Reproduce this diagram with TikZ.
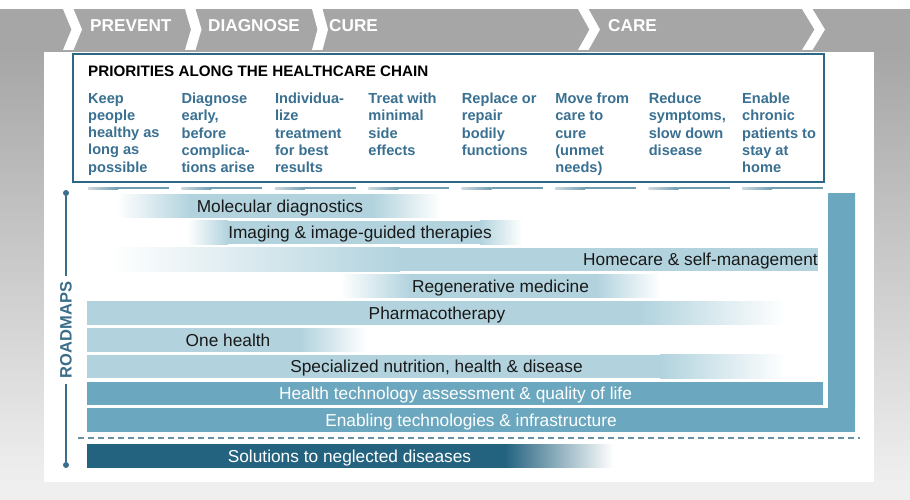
\documentclass[tikz,border=0pt]{standalone}
\usepackage{fontspec}
\setmainfont{Liberation Sans}
\usepackage{xcolor}
\usepackage{tikz}

\definecolor{bandgray}{RGB}{166,166,166}
\definecolor{bggray}{RGB}{239,239,239}
\definecolor{boxblue}{RGB}{44,104,133}
\definecolor{colblue}{RGB}{58,112,145}
\definecolor{axisblue}{RGB}{58,110,138}
\definecolor{barlight}{RGB}{178,211,222}
\definecolor{barmid}{RGB}{107,168,191}
\definecolor{bardark}{RGB}{36,99,127}
\definecolor{dashgray}{RGB}{106,145,163}
\definecolor{seglight}{RGB}{205,216,222}
\definecolor{segdark}{RGB}{112,156,178}

\begin{document}
\begin{tikzpicture}[x=1pt, y=-1pt,
    chevlabel/.style={font=\fontsize{17.2}{20}\selectfont\bfseries, text=white, inner sep=0pt, anchor=base west},
    coltext/.style={font=\fontsize{14.6}{17.2}\selectfont\bfseries, text=colblue, align=left, inner sep=0pt, anchor=north west},
    bartext/.style={font=\fontsize{17.3}{20}\selectfont, text=black!90, inner sep=0pt, anchor=base},
    axisdot/.style={circle, fill=axisblue, inner sep=0pt, minimum size=6pt}]
    \useasboundingbox (0,0) rectangle (910,500);
    % background and chevron band
    \fill[bandgray] (0,9) rectangle (910,50);
    \shade[top color=bandgray, bottom color=bggray] (0,50) rectangle (910,482);
    \fill[bggray] (0,482) rectangle (910,500);
    \foreach \x/\d in {63/8.5,185/6,312/5.5,578/11.5,802/12.5}{
      \fill[white] (\x,9) -- (\x+10.5,9) -- (\x+10.5+\d,29.5) -- (\x+10.5,50) -- (\x,50) -- (\x+\d,29.5) -- cycle;
    }
    \fill[white] (44,52) rectangle (874,482);
    \node[chevlabel] (prevent) at (90,31.5) {PREVENT};
    \node[chevlabel] (diagnose) at (208,31.5) {DIAGNOSE};
    \node[chevlabel] (cure) at (329,31.5) {CURE};
    \node[chevlabel] (care) at (608,31.5) {CARE};

    % priorities box
    \draw[boxblue, line width=1.8pt] (73,54) rectangle (824,182);
    \node[font=\fontsize{15.2}{18}\selectfont\bfseries, inner sep=0pt, anchor=base west] (priorities)
      at (88,76.5) {PRIORITIES ALONG THE HEALTHCARE CHAIN};
    \foreach \i/\txt in {0/{Keep\\people\\healthy as\\long as\\possible},
                         1/{Diagnose\\early,\\before\\complica-\\tions arise},
                         2/{Individua-\\lize\\treatment\\for best\\results},
                         3/{Treat with\\minimal\\side\\effects},
                         4/{Replace or\\repair\\bodily\\functions},
                         5/{Move from\\care to\\cure\\(unmet\\needs)},
                         6/{Reduce\\symptoms,\\slow down\\disease},
                         7/{Enable\\chronic\\patients to\\stay at\\home}}{
      \node[coltext] (col\i) at (88+93.43*\i,93) {\txt};
      \shade[left color=seglight, right color=segdark] (88+93.43*\i,187) rectangle (118+93.43*\i,189.2);
      \fill[segdark] (118+93.43*\i,187) rectangle (169+93.43*\i,189.2);
    }

    % roadmaps axis
    \node[axisdot] (topdot) at (66,193) {};
    \node[axisdot] (botdot) at (66,465) {};
    \node[rotate=90, font=\fontsize{16.5}{20}\selectfont\bfseries, text=axisblue, inner xsep=6pt, inner ysep=0pt]
      (roadmaps) at (66,330) {ROADMAPS};
    \draw[axisblue, line width=1.5pt] (topdot) -- (roadmaps.east);
    \draw[axisblue, line width=1.5pt] (roadmaps.west) -- (botdot);

    % molecular diagnostics
    \shade[left color=white, right color=barlight] (117,194) rectangle (190,217.5);
    \fill[barlight] (190,194) rectangle (373,217.5);
    \shade[left color=barlight, right color=white] (373,194) rectangle (440,217.5);
    \node[bartext] (molecular) at (280,212) {Molecular diagnostics};
    % imaging
    \shade[left color=white, right color=barlight] (187,220.8) rectangle (228,244.3);
    \fill[barlight] (228,220.8) rectangle (480,244.3);
    \shade[left color=barlight, right color=white] (480,220.8) rectangle (522,244.3);
    \node[bartext] (imaging) at (360,238.8) {Imaging \& image-guided therapies};
    % homecare
    \shade[left color=white, right color=barlight] (110,247.6) rectangle (400,271.1);
    \fill[barlight] (400,247.6) rectangle (818,271.1);
    \node[bartext, anchor=base east] (homecare) at (818,265.6) {Homecare \& self-management};
    % regenerative medicine
    \shade[left color=white, right color=barlight] (340,274.4) rectangle (410,297.9);
    \fill[barlight] (410,274.4) rectangle (597,297.9);
    \shade[left color=barlight, right color=white] (597,274.4) rectangle (660,297.9);
    \node[bartext] (regen) at (500.5,292.4) {Regenerative medicine};
    % pharmacotherapy
    \fill[barlight] (87,301.2) rectangle (640,324.7);
    \shade[left color=barlight, right color=white] (640,301.2) rectangle (785,324.7);
    \node[bartext] (pharma) at (437,319.2) {Pharmacotherapy};
    % one health
    \fill[barlight] (87,328) rectangle (300,351.5);
    \shade[left color=barlight, right color=white] (300,328) rectangle (367,351.5);
    \node[bartext] (onehealth) at (228,346) {One health};
    % nutrition
    \fill[barlight] (87,354.8) rectangle (660,378.3);
    \shade[left color=barlight, right color=white] (660,354.8) rectangle (785,378.3);
    \node[bartext] (nutrition) at (436.5,372.8) {Specialized nutrition, health \& disease};
    % health technology assessment
    \fill[barmid] (87,381.6) rectangle (823,405.1);
    \node[bartext, text=white] (hta) at (455.5,399.6) {Health technology assessment \& quality of life};
    % enabling technologies
    \fill[barmid] (87,408.4) -- (855,408.4) -- (855,193) -- (828,193) -- (828,431.9) -- (87,431.9) -- cycle;
    \fill[barmid] (87,408.4) rectangle (855,431.9);
    \node[bartext, text=white] (enabling) at (471,426.4) {Enabling technologies \& infrastructure};

    \draw[dashgray, line width=1.5pt, dash pattern=on 6pt off 4pt] (78,438) -- (860,438);

    % neglected diseases
    \fill[bardark] (87,444) rectangle (505,467.5);
    \shade[left color=bardark, right color=white] (505,444) rectangle (613,467.5);
    \node[bartext, text=white] (neglected) at (349.5,462) {Solutions to neglected diseases};
\end{tikzpicture}
\end{document}
